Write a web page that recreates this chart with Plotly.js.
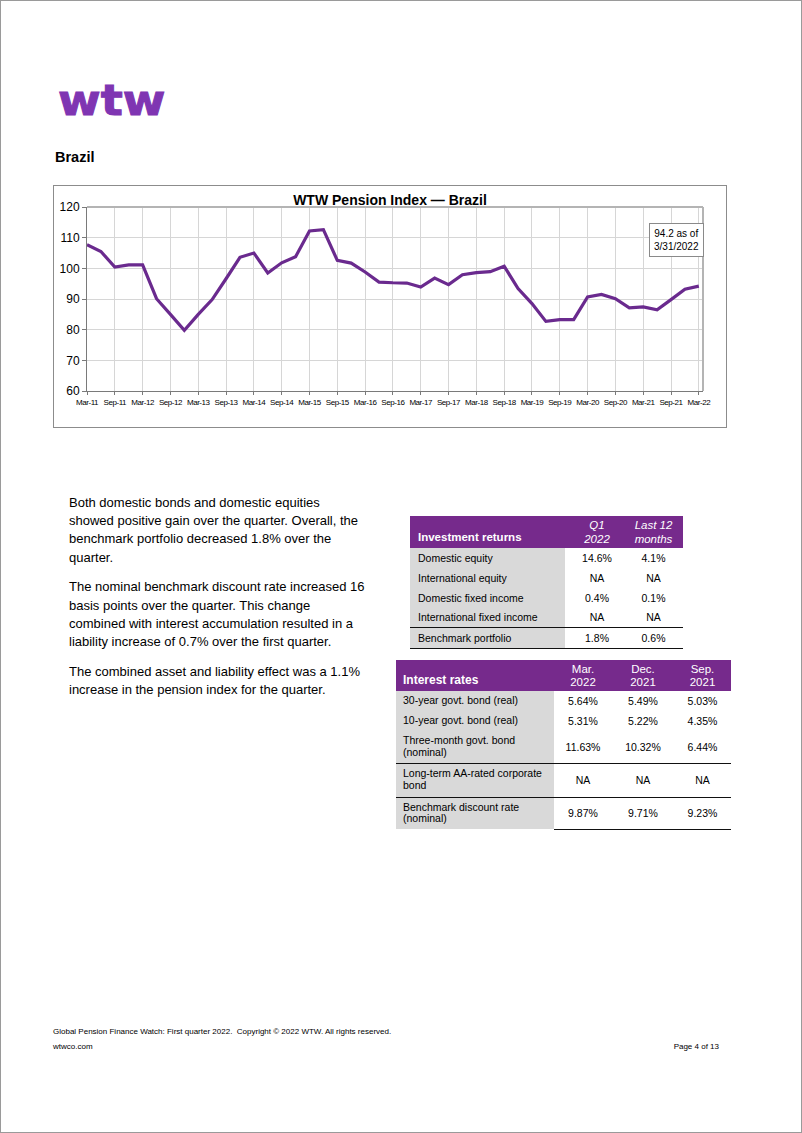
<!DOCTYPE html>
<html>
<head>
<meta charset="utf-8">
<script src="https://cdn.plot.ly/plotly-3.0.1.min.js"></script>
<style>
  html, body { margin:0; padding:0; background:#fff; }
  body { width:802px; height:1133px; position:relative; overflow:hidden; font-family:"Liberation Sans", Arial, sans-serif; color:#000; }
  #page { position:absolute; left:0; top:0; width:800px; height:1131px; border:1px solid #9a9a9a; }
  .abs { position:absolute; }
  #logo { left:58px; top:80px; font-family:"DejaVu Sans", sans-serif; font-weight:bold; font-size:42px; line-height:42px; color:#7f35b2; letter-spacing:0px; transform-origin:0 0; transform:scaleX(1.1); -webkit-text-stroke:1px #7f35b2; }
  #country { left:55px; top:148px; font-weight:bold; font-size:14.5px; line-height:18px; }
  #frame { left:53px; top:185px; width:672px; height:241px; border:1px solid #8c8c8c; }
  #text { left:69px; top:494px; width:320px; font-size:13px; line-height:18.2px; }
  #text p { margin:0 0 11.5px 0; white-space:nowrap; }
  table.t { position:absolute; border-collapse:collapse; table-layout:fixed; font-size:10.5px; }
  table.t td { padding:0; overflow:visible; white-space:nowrap; }
  table.t tr.hd td { background:#762a8c; color:#fff; vertical-align:bottom; }
  table.t td.lab { background:#d9d9d9; padding-left:8px; text-align:left; }
  table.t td.val { text-align:center; background:#fff; }
  .foot { font-size:8px; line-height:10px; }
  #chart .xtick text { letter-spacing:-0.45px; }
</style>
</head>
<body>
<div id="page"></div>
<div id="logo" class="abs">wtw</div>
<div id="country" class="abs">Brazil</div>
<div id="frame" class="abs"><div id="chart"></div></div>
<div id="text" class="abs"></div>
<div id="tbl1holder"></div>
<div id="tbl2holder"></div>
<div class="abs foot" style="left:53px; top:1027px;">Global Pension Finance Watch: First quarter 2022.&nbsp; Copyright © 2022 WTW. All rights reserved.</div>
<div class="abs foot" style="left:53px; top:1042px;">wtwco.com</div>
<div class="abs foot" style="right:83px; top:1042px;">Page 4 of 13</div>

<script>
// ---------- Chart data ----------
const quarters = [
  "Mar-11","Jun-11","Sep-11","Dec-11",
  "Mar-12","Jun-12","Sep-12","Dec-12",
  "Mar-13","Jun-13","Sep-13","Dec-13",
  "Mar-14","Jun-14","Sep-14","Dec-14",
  "Mar-15","Jun-15","Sep-15","Dec-15",
  "Mar-16","Jun-16","Sep-16","Dec-16",
  "Mar-17","Jun-17","Sep-17","Dec-17",
  "Mar-18","Jun-18","Sep-18","Dec-18",
  "Mar-19","Jun-19","Sep-19","Dec-19",
  "Mar-20","Jun-20","Sep-20","Dec-20",
  "Mar-21","Jun-21","Sep-21","Dec-21",
  "Mar-22"
];
const pensionIndex = [
  107.7, 105.5, 100.4, 101.1,
  101.1,  90.1,  85.0,  79.8,
   85.0,  89.8,  96.6, 103.6,
  105.0,  98.5, 101.8, 103.8,
  112.2, 112.6, 102.6, 101.7,
   98.8,  95.5,  95.3,  95.2,
   93.9,  96.8,  94.7,  97.9,
   98.6,  98.9, 100.7,  93.4,
   88.5,  82.7,  83.3,  83.3,
   90.7,  91.5,  90.1,  87.1,
   87.4,  86.5,  89.8,  93.2,
   94.2
];
const tickLabels = [
  "Mar-11","Sep-11","Mar-12","Sep-12","Mar-13","Sep-13","Mar-14","Sep-14",
  "Mar-15","Sep-15","Mar-16","Sep-16","Mar-17","Sep-17","Mar-18","Sep-18",
  "Mar-19","Sep-19","Mar-20","Sep-20","Mar-21","Sep-21","Mar-22"
];
const yTicks = [60, 70, 80, 90, 100, 110, 120];
const chartTitle = "WTW Pension Index — Brazil";
const calloutText = "94.2 as of<br>3/31/2022";

// ---------- Text data (one entry per printed line) ----------
const paragraph1 = [
  "Both domestic bonds and domestic equities",
  "showed positive gain over the quarter. Overall, the",
  "benchmark portfolio decreased 1.8% over the",
  "quarter."
];
const paragraph2 = [
  "The nominal benchmark discount rate increased 16",
  "basis points over the quarter. This change",
  "combined with interest accumulation resulted in a",
  "liability increase of 0.7% over the first quarter."
];
const paragraph3 = [
  "The combined asset and liability effect was a 1.1%",
  "increase in the pension index for the quarter."
];

// ---------- Table data ----------
const invHeader = ["Investment returns", "Q1<br>2022", "Last 12<br>months"];
const invLabels = ["Domestic equity", "International equity", "Domestic fixed income", "International fixed income", "Benchmark portfolio"];
const invQ1 = ["14.6%", "NA", "0.4%", "NA", "1.8%"];
const invLast12 = ["4.1%", "NA", "0.1%", "NA", "0.6%"];

const rateHeader = ["Interest rates", "Mar.<br>2022", "Dec.<br>2021", "Sep.<br>2021"];
const rateLabels = ["30-year govt. bond (real)", "10-year govt. bond (real)", "Three-month govt. bond<br>(nominal)", "Long-term AA-rated corporate<br>bond", "Benchmark discount rate<br>(nominal)"];
const rateMar22 = ["5.64%", "5.31%", "11.63%", "NA", "9.87%"];
const rateDec21 = ["5.49%", "5.22%", "10.32%", "NA", "9.71%"];
const rateSep21 = ["5.03%", "4.35%", "6.44%", "NA", "9.23%"];

// ---------- Paragraphs ----------
document.getElementById('text').innerHTML =
  [paragraph1, paragraph2, paragraph3].map(p => '<p>' + p.join('<br>') + '</p>').join('');

// ---------- Table 1 ----------
(function(){
  const rowH = [20, 20, 20, 19, 21];
  let h = '<table class="t" style="left:410px; top:516px; width:273px;">';
  h += '<colgroup><col style="width:155px"><col style="width:64px"><col style="width:54px"></colgroup>';
  h += '<tr class="hd" style="height:32px;">' +
       '<td style="padding-left:8px; padding-bottom:4px; font-weight:bold; font-size:11.5px; line-height:14px;">' + invHeader[0] + '</td>' +
       '<td style="text-align:center; font-style:italic; font-size:11.5px; line-height:14px; padding-bottom:2px;">' + invHeader[1] + '</td>' +
       '<td style="text-align:center; font-style:italic; font-size:11.5px; line-height:14px; padding-bottom:2px; padding-right:5px;">' + invHeader[2] + '</td></tr>';
  for (let i = 0; i < invLabels.length; i++) {
    const last = i === invLabels.length - 1;
    const b = last ? 'border-top:1.5px solid #111; border-bottom:1.5px solid #111;' : '';
    h += '<tr style="height:' + rowH[i] + 'px;">' +
         '<td class="lab" style="' + b + '">' + invLabels[i] + '</td>' +
         '<td class="val" style="' + b + '">' + invQ1[i] + '</td>' +
         '<td class="val" style="' + b + ' padding-right:5px;">' + invLast12[i] + '</td></tr>';
  }
  h += '</table>';
  document.getElementById('tbl1holder').innerHTML = h;
})();

// ---------- Table 2 ----------
(function(){
  const rowH = [20, 20, 32, 34, 32];
  let h = '<table class="t" style="left:396px; top:660px; width:335px;">';
  h += '<colgroup><col style="width:158px"><col style="width:58px"><col style="width:62px"><col style="width:57px"></colgroup>';
  h += '<tr class="hd" style="height:31px;">' +
       '<td style="padding-left:7px; padding-bottom:5px; font-weight:bold; font-size:12px; line-height:12px;">' + rateHeader[0] + '</td>';
  for (let j = 1; j < rateHeader.length; j++) {
    h += '<td style="text-align:center; font-size:11.5px; line-height:13px; padding-bottom:2px;">' + rateHeader[j] + '</td>';
  }
  h += '</tr>';
  for (let i = 0; i < rateLabels.length; i++) {
    const top = (i === 3 || i === 4) ? 'border-top:1.5px solid #111;' : '';
    const bot = (i === 4) ? 'border-bottom:1.5px solid #111;' : '';
    h += '<tr style="height:' + rowH[i] + 'px;">' +
         '<td class="lab" style="line-height:11.7px; padding-left:7px; ' + top + '">' + rateLabels[i] + '</td>' +
         '<td class="val" style="' + top + bot + '">' + rateMar22[i] + '</td>' +
         '<td class="val" style="' + top + bot + '">' + rateDec21[i] + '</td>' +
         '<td class="val" style="' + top + bot + '">' + rateSep21[i] + '</td></tr>';
  }
  h += '</table>';
  document.getElementById('tbl2holder').innerHTML = h;
})();

// ---------- Chart ----------
const W = 672, H = 241;
const M = {l:33, r:23, t:21, b:36};
const xRange = [0, 44.3];

const trace = {
  type: 'scatter', mode: 'lines',
  x: quarters, y: pensionIndex,
  line: {color: '#6a2a8e', width: 3.2},
  hoverinfo: 'skip', showlegend: false, cliponaxis: false
};

const layout = {
  width: W, height: H,
  margin: M,
  paper_bgcolor: '#fff', plot_bgcolor: '#fff',
  font: {family: '"Liberation Sans", Arial, sans-serif', color: '#000'},
  title: {
    text: '<b>' + chartTitle + '</b>',
    font: {family: '"Liberation Sans", Arial, sans-serif', size: 14, color: '#000'},
    x: 0.5, xref: 'container', xanchor: 'center',
    y: 1 - 14.5 / H, yref: 'container', yanchor: 'middle'
  },
  xaxis: {
    type: 'category', range: xRange,
    categoryorder: 'array', categoryarray: quarters,
    tickmode: 'array', tickvals: tickLabels, ticktext: tickLabels,
    tickangle: 0,
    showgrid: true, gridcolor: '#d6d6d6', gridwidth: 1,
    showline: true, linecolor: '#7a7a7a', linewidth: 1,
    ticks: 'outside', ticklen: 3, tickcolor: '#7a7a7a',
    tickfont: {family: '"Liberation Sans", Arial, sans-serif', size: 8, color: '#000'},
    zeroline: false, fixedrange: true
  },
  xaxis2: {
    overlaying: 'x', anchor: 'y', side: 'bottom',
    type: 'linear', range: xRange, tick0: 0, dtick: 1,
    ticks: 'outside', ticklen: 3, tickcolor: '#7a7a7a',
    showticklabels: false, showgrid: false, zeroline: false, showline: false, fixedrange: true
  },
  yaxis: {
    range: [60, 120], tickmode: 'array', tickvals: yTicks,
    showgrid: true, gridcolor: '#d6d6d6', gridwidth: 1,
    showline: true, linecolor: '#7a7a7a', linewidth: 1,
    ticks: 'outside', ticklen: 4, tickcolor: '#7a7a7a',
    tickfont: {size: 12, color: '#000'},
    zeroline: false, fixedrange: true
  },
  shapes: [
    {type: 'line', xref: 'paper', yref: 'paper', x0: 0, x1: 1, y0: 1, y1: 1, line: {color: '#b4b4b4', width: 2}},
    {type: 'line', xref: 'paper', yref: 'paper', x0: 1, x1: 1, y0: 0, y1: 1, line: {color: '#b4b4b4', width: 2}}
  ],
  annotations: [{
    text: calloutText, showarrow: false,
    xref: 'paper', yref: 'paper', x: 1.002, y: 0.915, xanchor: 'right', yanchor: 'top',
    align: 'center', font: {size: 10, color: '#000'},
    bgcolor: '#fff', bordercolor: '#8a8a8a', borderwidth: 1, borderpad: 4
  }]
};

Plotly.newPlot('chart', [trace], layout, {staticPlot: true, displayModeBar: false});
</script>
</body>
</html>
